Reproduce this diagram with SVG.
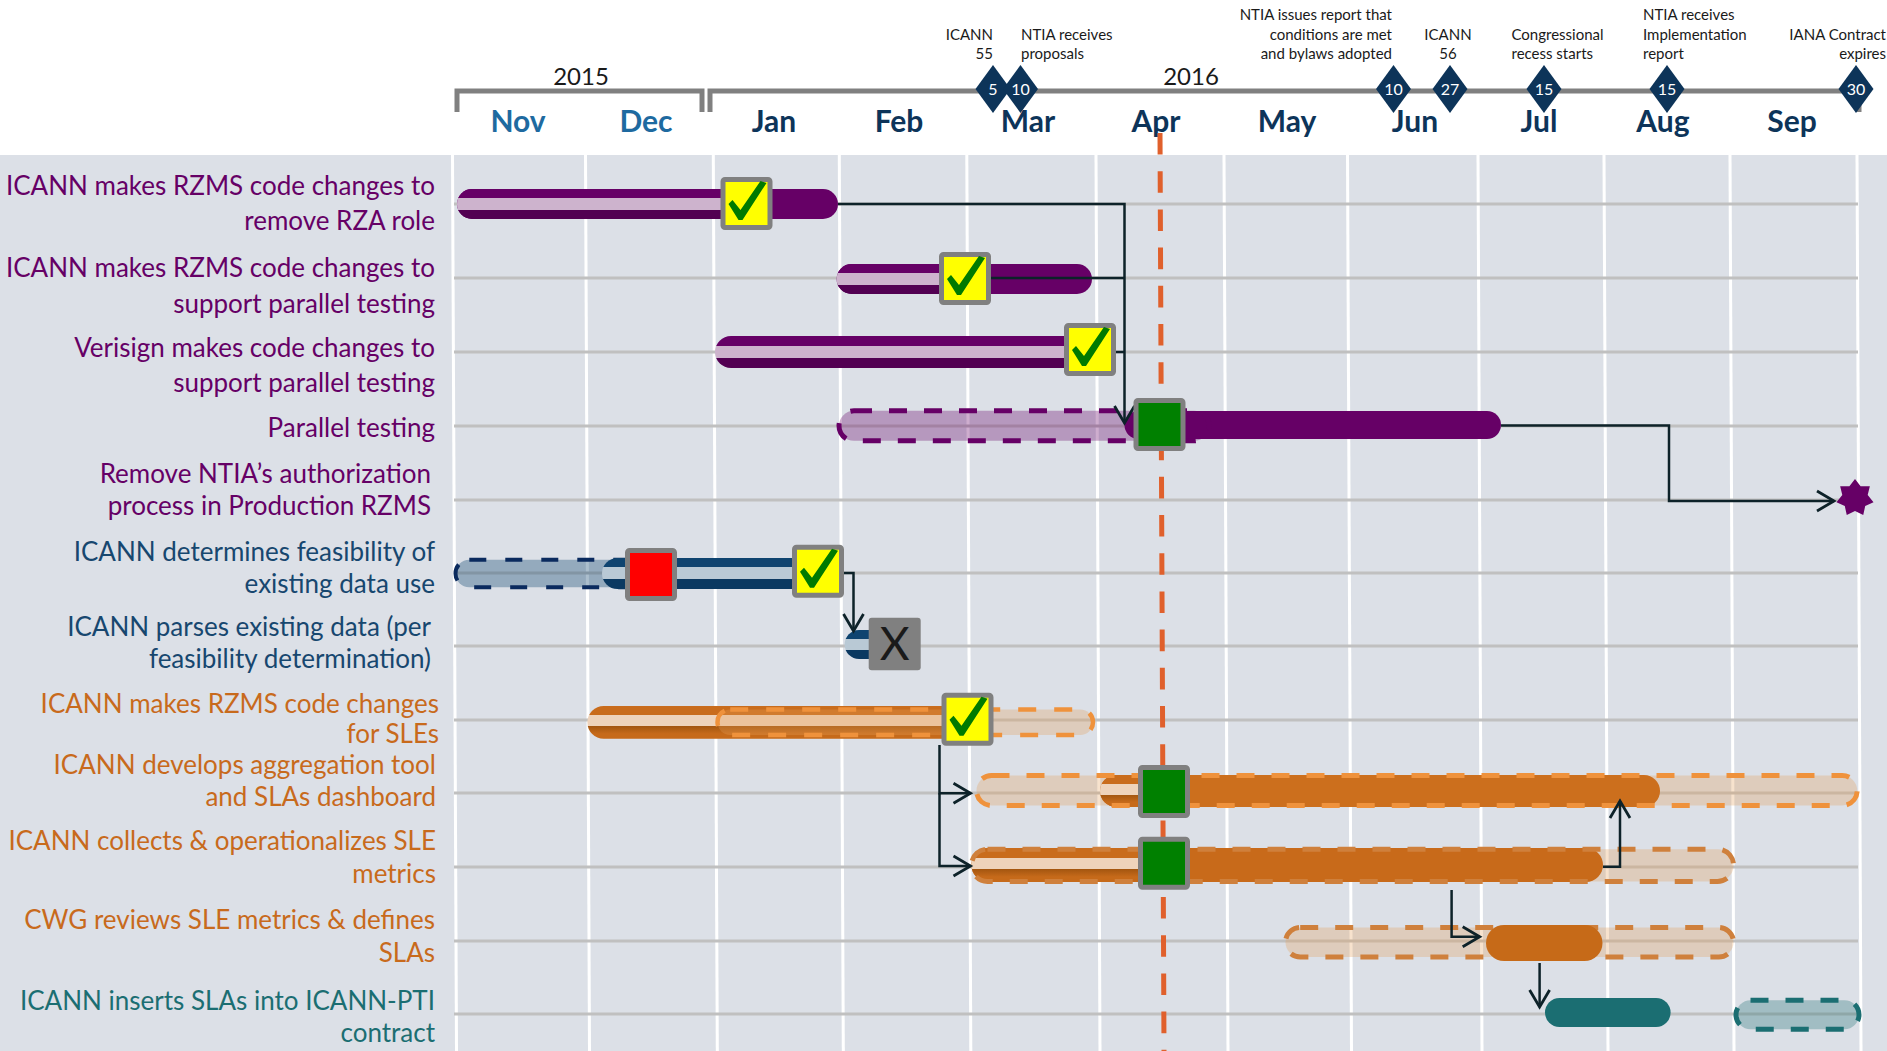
<svg xmlns="http://www.w3.org/2000/svg" width="1887" height="1051" viewBox="0 0 1887 1051">
<style>
.lbl{font-family:Lato,"Liberation Sans",sans-serif;font-size:26px;text-anchor:end}
.pur{fill:#660066}.nav{fill:#17476f}.org{fill:#c86a1c}.tea{fill:#1b6e72}
.mon{font-family:Lato,"Liberation Sans",sans-serif;font-size:30px;font-weight:bold;text-anchor:middle;fill:#0d3459}
.mon2{fill:#1e6aa0}
.yr{font-family:Lato,"Liberation Sans",sans-serif;font-size:24px;fill:#1a1a1a;text-anchor:middle}
.ms{font-family:Lato,"Liberation Sans",sans-serif;font-size:15px;fill:#1a1a1a}
.dn{font-family:Lato,"Liberation Sans",sans-serif;font-size:16px;fill:#fff;text-anchor:middle}
.grid{stroke:#fff;stroke-width:3}
.rowl{stroke:#c0c0c0;stroke-width:3}
.conn{fill:none;stroke:#0d2229;stroke-width:2.5}
.brk{fill:none;stroke:#808080;stroke-width:5}
.pl{stroke-width:5;stroke-dasharray:18 17}
</style>
<defs>
<linearGradient id="gP" x1="0" y1="0" x2="0" y2="1">
<stop offset="0.3" stop-color="#660066"/><stop offset="0.3" stop-color="#cdb3cd"/><stop offset="0.7" stop-color="#cdb3cd"/><stop offset="0.7" stop-color="#520052"/>
</linearGradient>
<linearGradient id="gN" x1="0" y1="0" x2="0" y2="1">
<stop offset="0.3" stop-color="#0f4470"/><stop offset="0.3" stop-color="#b9c9d5"/><stop offset="0.68" stop-color="#b9c9d5"/><stop offset="0.68" stop-color="#0b3961"/>
</linearGradient>
<linearGradient id="gO" x1="0" y1="0" x2="0" y2="1">
<stop offset="0.28" stop-color="#c96c1c"/><stop offset="0.28" stop-color="#eed3bb"/><stop offset="0.62" stop-color="#eed3bb"/><stop offset="0.62" stop-color="#a35610"/><stop offset="0.85" stop-color="#c66a1a"/>
</linearGradient>
<g id="chk">
<rect x="2.5" y="2.5" width="47" height="48" rx="2" fill="#ffff00" stroke="#808080" stroke-width="5"/>
<path d="M8,27 L12,23 L20,33 L40,4 L46,6 L22,43 L18,43 Z" fill="#007a00"/>
</g>
<g id="grn"><rect x="2.5" y="2.5" width="47" height="48" rx="2" fill="#008000" stroke="#808080" stroke-width="5"/></g>
<path id="dia" d="M0,-24 L17.5,0 L0,24 L-17.5,0 Z" fill="#0d3459"/>
<marker id="arr" viewBox="-20 -12 24 24" refX="0" refY="0" markerWidth="24" markerHeight="24" markerUnits="userSpaceOnUse" orient="auto">
<path d="M-17,-10 L0,0 L-17,10" fill="none" stroke="#0d2229" stroke-width="2.8"/>
</marker>
</defs>

<rect x="0" y="0" width="1887" height="1051" fill="#ffffff"/>
<rect x="0" y="155" width="1887" height="896" fill="#dce0e7"/>

<g id="grid">
<line class="grid" x1="452.5" y1="155" x2="456.5" y2="1051"/>
<line class="grid" x1="585.5" y1="155" x2="589.5" y2="1051"/>
<line class="grid" x1="713.3" y1="155" x2="717.3" y2="1051"/>
<line class="grid" x1="839.3" y1="155" x2="843.3" y2="1051"/>
<line class="grid" x1="966.8" y1="155" x2="970.8" y2="1051"/>
<line class="grid" x1="1096" y1="155" x2="1100" y2="1051"/>
<line class="grid" x1="1224" y1="155" x2="1228" y2="1051"/>
<line class="grid" x1="1347.5" y1="155" x2="1351.5" y2="1051"/>
<line class="grid" x1="1478" y1="155" x2="1482" y2="1051"/>
<line class="grid" x1="1604" y1="155" x2="1608" y2="1051"/>
<line class="grid" x1="1730" y1="155" x2="1734" y2="1051"/>
<line class="grid" x1="1857" y1="155" x2="1861" y2="1051"/>
<line class="rowl" x1="454" y1="204" x2="1858" y2="204"/>
<line class="rowl" x1="454" y1="278" x2="1858" y2="278"/>
<line class="rowl" x1="454" y1="352" x2="1858" y2="352"/>
<line class="rowl" x1="454" y1="426" x2="1858" y2="426"/>
<line class="rowl" x1="454" y1="500" x2="1858" y2="500"/>
<line class="rowl" x1="454" y1="573" x2="1858" y2="573"/>
<line class="rowl" x1="454" y1="646" x2="1858" y2="646"/>
<line class="rowl" x1="454" y1="720" x2="1858" y2="720"/>
<line class="rowl" x1="454" y1="793" x2="1858" y2="793"/>
<line class="rowl" x1="454" y1="867" x2="1858" y2="867"/>
<line class="rowl" x1="454" y1="941" x2="1858" y2="941"/>
<line class="rowl" x1="454" y1="1014" x2="1858" y2="1014"/>
</g>

<g id="timeline">
<path class="brk" d="M457,112 V91 H702 V112"/>
<path class="brk" d="M710,112 V91 H1859 V112"/>
<text class="yr" x="581" y="85">2015</text>
<text class="yr" x="1191" y="85">2016</text>
<text class="mon mon2" x="518" y="132">Nov</text>
<text class="mon mon2" x="646" y="132">Dec</text>
<text class="mon" x="774" y="132">Jan</text>
<text class="mon" x="899" y="132">Feb</text>
<text class="mon" x="1028" y="132">Mar</text>
<text class="mon" x="1156" y="132">Apr</text>
<text class="mon" x="1287" y="132">May</text>
<text class="mon" x="1415" y="132">Jun</text>
<text class="mon" x="1539" y="132">Jul</text>
<text class="mon" x="1663" y="132">Aug</text>
<text class="mon" x="1792" y="132">Sep</text>
</g>

<g id="ms-icann55"><use href="#dia" x="993" y="89"/><text class="dn" x="993" y="95">5</text>
<text class="ms" text-anchor="end"><tspan x="993" y="39.5">ICANN</tspan><tspan x="993" y="59">55</tspan></text></g>
<g id="ms-proposals"><use href="#dia" x="1020.5" y="89"/><text class="dn" x="1020.5" y="95">10</text>
<text class="ms"><tspan x="1021" y="39.5">NTIA receives</tspan><tspan x="1021" y="59">proposals</tspan></text></g>
<g id="ms-report"><use href="#dia" x="1393.5" y="89"/><text class="dn" x="1393.5" y="95">10</text>
<text class="ms" text-anchor="end"><tspan x="1392" y="20">NTIA issues report that</tspan><tspan x="1392" y="39.5">conditions are met</tspan><tspan x="1392" y="59">and bylaws adopted</tspan></text></g>
<g id="ms-icann56"><use href="#dia" x="1450" y="89"/><text class="dn" x="1450" y="95">27</text>
<text class="ms" text-anchor="middle"><tspan x="1448" y="39.5">ICANN</tspan><tspan x="1448" y="59">56</tspan></text></g>
<g id="ms-recess"><use href="#dia" x="1544" y="89"/><text class="dn" x="1544" y="95">15</text>
<text class="ms"><tspan x="1511.5" y="39.5">Congressional</tspan><tspan x="1511.5" y="59">recess starts</tspan></text></g>
<g id="ms-impl"><use href="#dia" x="1667" y="89"/><text class="dn" x="1667" y="95">15</text>
<text class="ms"><tspan x="1643" y="20">NTIA receives</tspan><tspan x="1643" y="39.5">Implementation</tspan><tspan x="1643" y="59">report</tspan></text></g>
<g id="ms-expires"><use href="#dia" x="1856" y="89"/><text class="dn" x="1856" y="95">30</text>
<text class="ms" text-anchor="end"><tspan x="1886" y="39.5">IANA Contract</tspan><tspan x="1886" y="59">expires</tspan></text></g>

<g id="row1">
<text class="lbl pur"><tspan x="435" y="195">ICANN makes RZMS code changes to</tspan><tspan x="435" y="230">remove RZA role</tspan></text>
<rect x="457" y="189" width="381" height="30" rx="15" fill="#660066"/>
<rect x="457" y="189" width="290" height="30" rx="15" fill="url(#gP)"/>
</g>
<g id="row2">
<text class="lbl pur"><tspan x="435" y="277">ICANN makes RZMS code changes to</tspan><tspan x="435" y="313">support parallel testing</tspan></text>
<rect x="836.6" y="264" width="255.4" height="30" rx="15" fill="#660066"/>
<rect x="836.6" y="264" width="130" height="30" rx="15" fill="url(#gP)"/>
</g>
<g id="row3">
<text class="lbl pur"><tspan x="435" y="357">Verisign makes code changes to</tspan><tspan x="435" y="392">support parallel testing</tspan></text>
<rect x="715" y="336" width="385" height="32" rx="16" fill="url(#gP)"/>
</g>
<g id="row4">
<text class="lbl pur" x="435" y="437">Parallel testing</text>
<rect x="839" y="410.8" width="370" height="30" rx="15" fill="#660066" fill-opacity="0.32"/>
<rect x="1124.5" y="411" width="376.5" height="28" rx="14" fill="#660066"/>
<rect class="pl" x="839" y="410.8" width="370" height="30" rx="15" fill="none" stroke="#660066"/>
</g>
<g id="row5">
<text class="lbl pur"><tspan x="431" y="483">Remove NTIA’s authorization</tspan><tspan x="431" y="515">process in Production RZMS</tspan></text>
<polygon transform="translate(1855,498)" fill="#660066" points="0,-19 5.6,-11.7 14.85,-11.85 12.7,-2.9 18.52,4.23 10.2,8.1 8.24,17.12 0,13 -8.24,17.12 -10.2,8.1 -18.52,4.23 -12.7,-2.9 -14.85,-11.85 -5.6,-11.7"/>
</g>
<g id="row6">
<text class="lbl nav"><tspan x="435" y="561">ICANN determines feasibility of</tspan><tspan x="435" y="593">existing data use</tspan></text>
<rect x="455.5" y="559.7" width="197" height="27.6" rx="13.8" fill="#0f4470" fill-opacity="0.35"/>
<rect x="455.5" y="559.7" width="197" height="27.6" rx="13.8" fill="none" stroke="#0a2a5e" stroke-width="4" stroke-dasharray="17 19"/>
<rect x="602" y="558" width="213" height="31" rx="15.5" fill="url(#gN)"/>
</g>
<g id="row7">
<text class="lbl nav"><tspan x="431" y="636">ICANN parses existing data (per</tspan><tspan x="431" y="668">feasibility determination)</tspan></text>
<rect x="844.6" y="630" width="50" height="29" rx="14.5" fill="url(#gN)"/>
</g>
<g id="row8">
<text class="lbl org"><tspan x="439" y="713">ICANN makes RZMS code changes</tspan><tspan x="439" y="743">for SLEs</tspan></text>
<rect x="587.4" y="706" width="373" height="32.7" rx="16.3" fill="url(#gO)"/>
<rect x="717.5" y="709.5" width="375.5" height="25.5" rx="12.7" fill="#e6a05a" fill-opacity="0.3"/>
<rect x="717.5" y="709.5" width="375.5" height="25.5" rx="12.7" fill="none" stroke="#ef923c" stroke-width="4.5" stroke-dasharray="18 18"/>
</g>
<g id="row9">
<text class="lbl org"><tspan x="436" y="774">ICANN develops aggregation tool</tspan><tspan x="436" y="806">and SLAs dashboard</tspan></text>
<rect x="976.5" y="775.5" width="880.7" height="30" rx="15" fill="#e6a05a" fill-opacity="0.3"/>
<rect x="1100" y="775" width="560" height="32" rx="16" fill="#cc6f1d"/>
<rect x="1100" y="775" width="70" height="32" rx="16" fill="url(#gO)"/>
<rect class="pl" x="976.5" y="775.5" width="880.7" height="30" rx="15" fill="none" stroke="#ef923c"/>
</g>
<g id="row10">
<text class="lbl org"><tspan x="436" y="850">ICANN collects &amp; operationalizes SLE</tspan><tspan x="436" y="883">metrics</tspan></text>
<rect x="971.5" y="849.2" width="762" height="32.3" rx="16" fill="#e6a05a" fill-opacity="0.3"/>
<rect x="971.4" y="848" width="631.6" height="34" rx="17" fill="#c86a1a"/>
<rect x="971.4" y="848" width="200" height="34" rx="17" fill="url(#gO)"/>
<rect class="pl" x="971.5" y="849.2" width="762" height="32.3" rx="16" fill="none" stroke="#cf803c"/>
</g>
<g id="row11">
<text class="lbl org"><tspan x="435" y="929">CWG reviews SLE metrics &amp; defines</tspan><tspan x="435" y="962">SLAs</tspan></text>
<rect x="1285.5" y="927.5" width="448" height="29.5" rx="14.7" fill="#e6a05a" fill-opacity="0.3"/>
<rect class="pl" x="1285.5" y="927.5" width="448" height="29.5" rx="14.7" fill="none" stroke="#cf803c"/>
<rect x="1486" y="925" width="116.5" height="36" rx="18" fill="#c66a18"/>
</g>
<g id="row12">
<text class="lbl tea"><tspan x="435" y="1010">ICANN inserts SLAs into ICANN-PTI</tspan><tspan x="435" y="1042">contract</tspan></text>
<rect x="1545" y="998" width="125.6" height="29" rx="14.5" fill="#1b6e72"/>
<rect x="1736" y="1000.2" width="123" height="29" rx="14.5" fill="#1b6e72" fill-opacity="0.3"/>
<rect x="1736" y="1000.2" width="123" height="29" rx="14.5" fill="none" stroke="#1b6e72" stroke-width="5" stroke-dasharray="18 17"/>
</g>

<g id="connectors">
<path class="conn" d="M838,204 H1124.5 V423" marker-end="url(#arr)"/>
<path class="conn" d="M990,278 H1124.5"/>
<path class="conn" d="M1116,352 H1124.5"/>
<path class="conn" d="M1501,425.5 H1669 V501 H1834" marker-end="url(#arr)"/>
<path class="conn" d="M844,573 H853.5 V631" marker-end="url(#arr)"/>
<path class="conn" d="M939.5,745 V793.3 H970.5" marker-end="url(#arr)"/>
<path class="conn" d="M939.5,793.3 V866 H970.5" marker-end="url(#arr)"/>
<path class="conn" d="M1603,866.7 H1620 V801" marker-end="url(#arr)"/>
<path class="conn" d="M1451.6,890 V936.7 H1479.7" marker-end="url(#arr)"/>
<path class="conn" d="M1539.6,963 V1007" marker-end="url(#arr)"/>
</g>

<line id="today" x1="1160" y1="133" x2="1164" y2="1051" stroke="#e0602c" stroke-width="5" stroke-dasharray="21.6 16.6"/>

<g id="markers">
<use href="#chk" x="720.5" y="177"/>
<use href="#chk" x="939" y="252"/>
<use href="#chk" x="1064" y="323"/>
<use href="#grn" x="1133.5" y="398"/>
<rect x="627.5" y="550.5" width="47" height="48" rx="2" fill="#ff0000" stroke="#808080" stroke-width="5"/>
<use href="#chk" x="792" y="544.7"/>
<rect x="868.7" y="617.7" width="52" height="52.5" rx="3" fill="#808080"/>
<text x="894.7" y="660" font-family="Lato,'Liberation Sans',sans-serif" font-size="46" fill="#1a1a1a" text-anchor="middle">X</text>
<use href="#chk" x="941.5" y="692.7"/>
<use href="#grn" x="1138" y="765"/>
<use href="#grn" x="1138" y="836.7"/>
</g>
</svg>
